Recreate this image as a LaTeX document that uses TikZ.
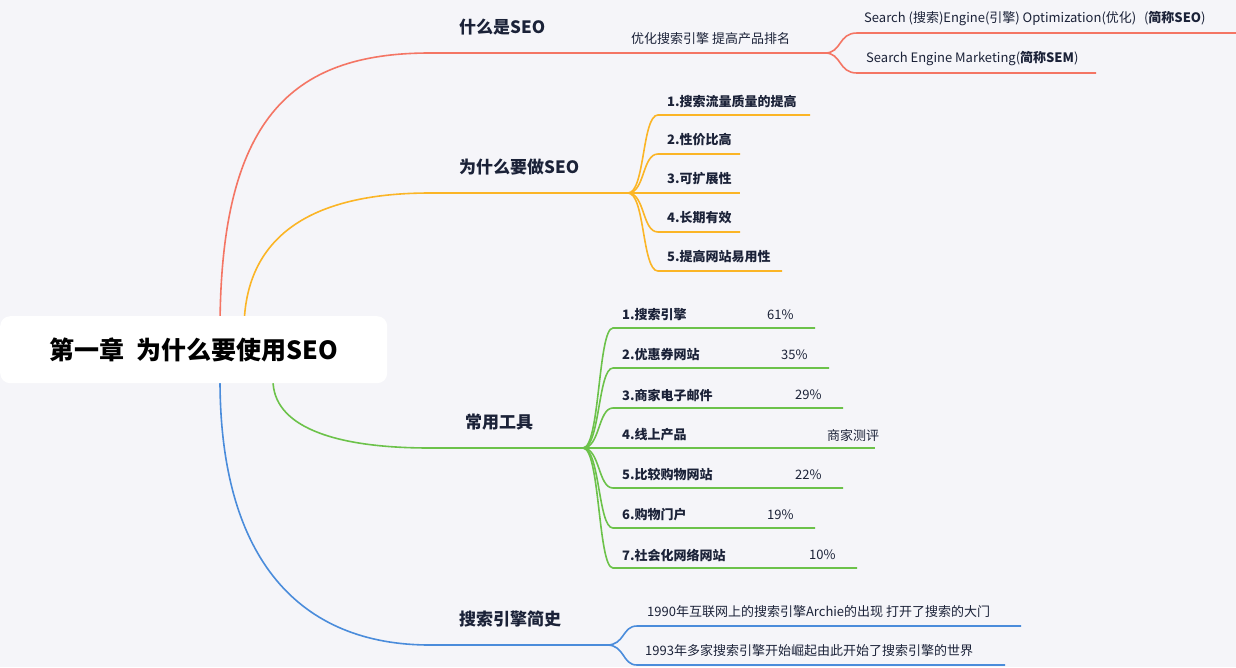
\documentclass[tikz,border=0pt]{standalone}
\usepackage{fontspec}
\setmainfont{Noto Sans CJK SC}
\begin{document}
\begin{tikzpicture}[x=1pt,y=-1pt,
  br/.style={line width=1.6pt},
  red/.style={br,draw=cR}, org/.style={br,draw=cO}, grn/.style={br,draw=cG}, blu/.style={br,draw=cB},
  lbl/.style={anchor=west,inner sep=0pt,text=cT,font=\fontsize{13}{15}\selectfont},
  blbl/.style={lbl,font=\fontsize{13}{15}\selectfont\bfseries},
  main/.style={anchor=west,inner sep=0pt,text=cT,font=\fontsize{17}{20}\selectfont\bfseries}]
\definecolor{cR}{HTML}{F47564}\definecolor{cO}{HTML}{FBB526}\definecolor{cG}{HTML}{6CC24A}\definecolor{cB}{HTML}{4A8CDB}
\definecolor{cT}{HTML}{1B2238}\definecolor{bg}{HTML}{F5F5F9}
\fill[bg] (0,0) rectangle (1236,667);
\useasboundingbox (0,0) rectangle (1236,667);
% branches from root
\coordinate (rt) at (220,330); \coordinate (ot) at (244,330);
\coordinate (gt) at (273,380); \coordinate (bt) at (220,380);
\coordinate (r1) at (430,53); \coordinate (r2) at (610,53);
\coordinate (o1) at (430,193); \coordinate (o2) at (628,193);
\coordinate (g1) at (430,448); \coordinate (g2) at (583,448);
\coordinate (b1) at (430,645); \coordinate (b2) at (607,645);
\draw[red] (rt) .. controls (220,120) and (290,53) .. (r1) -- (r2);
\draw[org] (ot) .. controls (244,230) and (320,193) .. (o1) -- (o2);
\draw[grn] (gt) .. controls (273,425) and (330,448) .. (g1) -- (g2);
\draw[blu] (bt) .. controls (220,560) and (300,645) .. (b1) -- (b2);
% root
\node[fill=white,rounded corners=10pt,minimum width=387pt,minimum height=67pt,anchor=north west,inner sep=0pt,
  font=\fontsize{25}{30}\selectfont\bfseries,text=black] (root) at (0,316) {第一章\hspace{0.5em}为什么要使用SEO};
\node[main] (m1) at (459,27) {什么是SEO};
\node[main] (m2) at (459,167) {为什么要做SEO};
\node[main] (m3) at (465,422) {常用工具};
\node[main] (m4) at (459,619) {搜索引擎简史};
% red
\node[lbl] (s1) at (631,39) {优化搜索引擎 提高产品排名};
\coordinate (s1e) at (808,53); \coordinate (s1k) at (825,53);
\draw[red] (r2) -- (s1e) -- (s1k);
\node[lbl] (t1) at (864,19) {Search (搜索)Engine(引擎) Optimization(优化)\hspace{0.6em}(\textbf{简称SEO})};
\node[lbl] (t2) at (866,59) {Search Engine Marketing(\textbf{简称SEM})};
\coordinate (t1a) at (857,33); \coordinate (t1b) at (1236,33);
\coordinate (t2a) at (857,73); \coordinate (t2b) at (1096,73);
\draw[red] (s1k) .. controls (842,53) and (838,33) .. (t1a) -- (t1b);
\draw[red] (s1k) .. controls (842,53) and (838,73) .. (t2a) -- (t2b);
% orange
\foreach \i/\y/\e/\t in {1/115/810/1.搜索流量质量的提高,2/154/740/2.性价比高,3/193/740/3.可扩展性,4/232/740/4.长期有效,5/271/782/5.提高网站易用性}{
  \node[blbl] (o\i t) at (667,\y-14) {\t};
  \coordinate (o\i a) at (658,\y); \coordinate (o\i b) at (\e,\y);
  \draw[org] (o2) .. controls (645,193) and (642,\y) .. (o\i a) -- (o\i b);
}
% green
\foreach \i/\y/\e/\p/\t/\v in {1/328/815/767/1.搜索引擎/61\%,2/368/829/781/2.优惠券网站/35\%,3/408/843/795/3.商家电子邮件/29\%,4/448/875/827/4.线上产品/商家测评/24\%,5/488/843/795/5.比较购物网站/22\%,6/528/815/767/6.购物门户/19\%,7/568/857/809/7.社会化网络网站/10\%}{
  \node[blbl] (g\i t) at (622,\y-13) {\t};
  \node[lbl] (g\i p) at (\p,\y-13) {\v};
  \coordinate (g\i a) at (613,\y); \coordinate (g\i b) at (\e,\y);
  \draw[grn] (g2) .. controls (600,448) and (598,\y) .. (g\i a) -- (g\i b);
}
% blue
\node[lbl] (h1) at (647,612) {1990年互联网上的搜索引擎Archie的出现 打开了搜索的大门};
\node[lbl] (h2) at (645,651) {1993年多家搜索引擎开始崛起由此开始了搜索引擎的世界};
\coordinate (h1a) at (637,626); \coordinate (h1b) at (1021,626);
\coordinate (h2a) at (637,665); \coordinate (h2b) at (1005,665);
\draw[blu] (b2) .. controls (625,645) and (622,626) .. (h1a) -- (h1b);
\draw[blu] (b2) .. controls (625,645) and (622,665) .. (h2a) -- (h2b);
\end{tikzpicture}
\end{document}
